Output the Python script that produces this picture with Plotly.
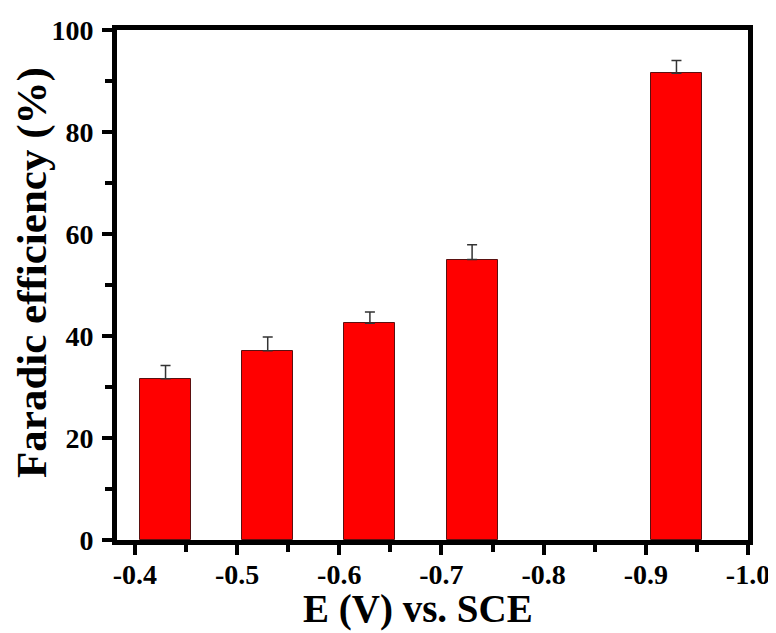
import plotly.graph_objects as go

# Data
potentials = [-0.4, -0.5, -0.6, -0.7, -0.9]
faradic_eff = [31.6, 37.1, 42.5, 55.0, 91.5]
eff_err = [2.6, 2.7, 2.2, 2.9, 2.5]
x_ticks = [-0.4, -0.5, -0.6, -0.7, -0.8, -0.9, -1.0]
y_ticks = [0, 20, 40, 60, 80, 100]
x_title = "E (V) vs. SCE"
y_title = "Faradic efficiency (%)"

FONT = "Liberation Serif, Times New Roman, serif"

fig = go.Figure()
fig.add_trace(go.Bar(
    x=potentials,
    y=faradic_eff,
    width=0.05,
    offset=-0.055,
    marker=dict(color="#FF0000", line=dict(color="#5a1010", width=1)),
    error_y=dict(type="data", symmetric=False, array=eff_err,
                 arrayminus=[0] * len(eff_err), color="#333333",
                 thickness=1.5, width=5),
    showlegend=False,
))

axis_common = dict(
    showline=True, linecolor="black", linewidth=5, mirror=True,
    ticks="outside", tickwidth=4, ticklen=10, tickcolor="black",
    showgrid=False, zeroline=False, automargin=False,
    tickfont=dict(family=FONT, size=28, color="black", weight="bold"),
)

fig.update_xaxes(
    **axis_common,
    range=[-0.3825, -1.0],
    tickvals=x_ticks,
    ticktext=[f"{v:.1f}" for v in x_ticks],
    ticklabelstandoff=-5,
    minor=dict(ticks="outside", dtick=0.05, tick0=-0.4, ticklen=7,
               tickwidth=4, tickcolor="black", showgrid=False),
)
fig.update_yaxes(
    **axis_common,
    range=[0, 100],
    tickvals=y_ticks,
    ticklabelstandoff=3,
    minor=dict(ticks="outside", dtick=10, tick0=0, ticklen=7,
               tickwidth=4, tickcolor="black", showgrid=False),
)

fig.add_annotation(
    text=x_title, xref="paper", yref="paper", x=0.4766, y=-0.136,
    xanchor="center", yanchor="middle", showarrow=False,
    font=dict(family=FONT, size=39, color="black", weight="bold"),
)
fig.add_annotation(
    text=y_title, xref="paper", yref="paper", x=-0.1356, y=0.5245,
    xanchor="center", yanchor="middle", showarrow=False, textangle=-90,
    font=dict(family=FONT, size=43, color="black", weight="bold"),
)

# page body has an 8px default margin, so the figure is drawn 8px smaller
fig.update_layout(
    width=768, height=625,
    margin=dict(l=109, r=28, t=22, b=93),
    paper_bgcolor="white", plot_bgcolor="white",
    bargap=0,
)

fig.write_html("out.html")
